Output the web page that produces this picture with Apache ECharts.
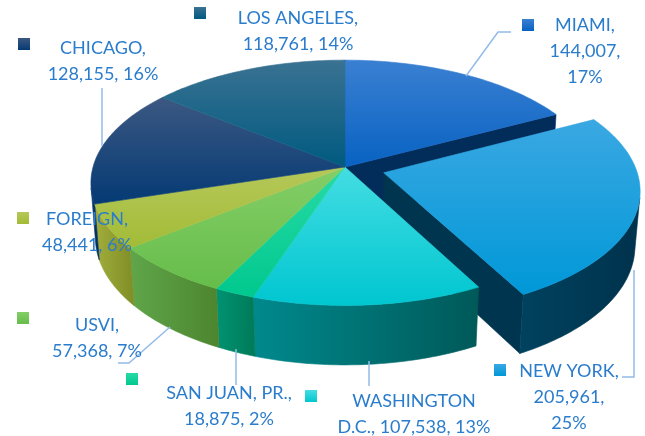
<!DOCTYPE html>
<html><head><meta charset="utf-8">
<script src="https://cdn.jsdelivr.net/npm/echarts@6/dist/echarts.min.js"></script>
<style>html,body{margin:0;padding:0;background:#fff}#c{width:645px;height:436px}</style>
</head><body><div id="c"></div>
<script>
// ---- data ----
const categories = ['MIAMI','NEW YORK','WASHINGTON D.C.','SAN JUAN, PR.','USVI','FOREIGN','CHICAGO','LOS ANGELES'];
const values = [144007,205961,107538,18875,57368,48441,128155,118761];
const percentLabels = ['17%','25%','13%','2%','7%','6%','16%','14%'];
const explodedIndex = 1;

// ---- styles ----
const topColors = [['#3a80d2','#0862c2'],['#3aa8e2','#0098d8'],['#44dde3','#00c6d0'],['#28daa6','#00c88e'],['#84ce68','#66bd4a'],['#b6c85a','#a2bb36'],['#3c5882','#043a74'],['#3a7292','#005a80']];
const wallColors = [['#0a3666','#002a55'],['#00425f','#00324c'],['#00898d','#005959'],['#009372','#007a58'],['#60a64a','#4c852e'],['#a2ae3c','#7e8d26'],['#0c3a6c','#002c5a'],['#0a5274','#00405e']];
const cutColors = ['#022c5a','#003550','#005959','#007a58','#4c852e','#7e8d26','#002c5a','#00405e'];
const textColor = '#2a7ccc';
const leaderColor = '#93bbe8';
const view = {cx:345, cy:167, F:1721, dist:6.83, tilt:28.6*Math.PI/180, depth:0.25, explode:0.16};

const labelLayout = [
  {cx:585, y:25,  sq:[522,19], fmt:3, leader:[[466,76],[498,32],[511,32]]},
  {cx:569, y:371, sq:[494,364], fmt:3, leader:[[634,270],[634,377],[622,377]]},
  {cx:414, y:401, sq:[305,390], fmt:1, leader:[[369,361],[369,386]]},
  {cx:229, y:393, sq:[126,373], fmt:2, leader:[[236,349],[236,385]]},
  {cx:97,  y:325, sq:[17,312], fmt:2, leader:[[170,327],[129,363],[118,363]]},
  {cx:87,  y:219, sq:[17,212], fmt:2, leader:null},
  {cx:103, y:48,  sq:[18,38], fmt:2, leader:[[102,88],[102,146]]},
  {cx:298, y:18,  sq:[194,7], fmt:2, leader:null}
];

// ---- geometry from data ----
const total = values.reduce((a,b)=>a+b,0);
const slices = [];
let acc = 0;
values.forEach((v,i)=>{
  const s = acc/total*2*Math.PI; acc += v;
  const e = acc/total*2*Math.PI;
  const mid = (s+e)/2;
  const ex = i===explodedIndex ? view.explode : 0;
  slices.push({s, e, ox: ex*Math.sin(mid), oy: -ex*Math.cos(mid)});
});
const sn = Math.sin(view.tilt), cs = Math.cos(view.tilt);
function proj(x,y,z){
  const Yc = z*cs - y*sn;
  const D = view.dist - y*cs - z*sn;
  return [view.cx + view.F*x/D, view.cy - view.F*Yc/D];
}
const cam = [0, view.dist*cs, view.dist*sn];
function rim(sl, a, z){ return proj(Math.sin(a)+sl.ox, -Math.cos(a)+sl.oy, z); }
function arcPts(sl, a0, a1, z){
  const n = Math.max(2, Math.ceil(Math.abs(a1-a0)/(Math.PI/180))+1);
  const pts = [];
  for(let k=0;k<n;k++){ const a = a0+(a1-a0)*k/(n-1); pts.push(rim(sl,a,z)); }
  return pts;
}
function facing(nx,ny,nz,px,py,pz){ return nx*(cam[0]-px)+ny*(cam[1]-py)+nz*(cam[2]-pz) > 0; }
function grad(c, horiz){
  return new echarts.graphic.LinearGradient(0,0,horiz?1:0,horiz?0:1,[{offset:0,color:c[0]},{offset:1,color:c[1]}]);
}

function renderWalls(params){
  const i = params.dataIndex, sl = slices[i], h = -view.depth;
  const children = [];
  const nb = (i===explodedIndex || i===explodedIndex-1 || i===explodedIndex+1);
  if(nb){
    [[sl.s,-1],[sl.e,1]].forEach(([a,sg])=>{
      const nx = sg*Math.cos(a), ny = sg*Math.sin(a);
      const px = 0.5*Math.sin(a)+sl.ox, py = -0.5*Math.cos(a)+sl.oy;
      if(facing(nx,ny,0,px,py,h/2)){
        const pts = [proj(sl.ox,sl.oy,0), rim(sl,a,0), rim(sl,a,h), proj(sl.ox,sl.oy,h)];
        children.push({type:'polygon', z2:1, shape:{points:pts}, style:{fill:cutColors[i], stroke:cutColors[i], lineWidth:0.6}});
      }
    });
  }
  const N = 200; let a0=null, a1=null;
  for(let k=0;k<=N;k++){
    const a = sl.s+(sl.e-sl.s)*k/N;
    const ok = facing(Math.sin(a),-Math.cos(a),0,Math.sin(a)+sl.ox,-Math.cos(a)+sl.oy,h/2);
    if(ok){ if(a0===null) a0=a; a1=a; }
  }
  if(a0!==null && a1>a0){
    const top = arcPts(sl,a0,a1,0), bot = arcPts(sl,a1,a0,h);
    children.push({type:'polygon', z2:2, shape:{points:top.concat(bot)}, style:{fill:grad(wallColors[i],true), stroke:grad(wallColors[i],true), lineWidth:0.6}});
  }
  return {type:'group', children};
}
function renderTops(params){
  const i = params.dataIndex, sl = slices[i];
  const pts = [proj(sl.ox,sl.oy,0)].concat(arcPts(sl,sl.s,sl.e,0));
  return {type:'polygon', shape:{points:pts}, style:{fill:grad(topColors[i],false), stroke:grad(topColors[i],false), lineWidth:0.6}};
}
function labelText(i){
  const v = values[i].toLocaleString('en-US');
  const f = labelLayout[i].fmt;
  if(f===3) return categories[i]+',\n'+v+',\n'+percentLabels[i];
  if(f===1) return categories[i].replace(' ','\n')+', '+v+', '+percentLabels[i];
  return categories[i]+',\n'+v+', '+percentLabels[i];
}
function renderLabels(params){
  const i = params.dataIndex, L = labelLayout[i];
  const ch = [];
  if(L.leader) ch.push({type:'polyline', shape:{points:L.leader}, style:{stroke:leaderColor, lineWidth:1.5, fill:null}});
  ch.push({type:'rect', shape:{x:L.sq[0], y:L.sq[1], width:12, height:12}, style:{fill:grad(topColors[i],false)}});
  ch.push({type:'text', style:{text:labelText(i), x:L.cx, y:L.y-13, align:'center', verticalAlign:'top', fontFamily:'Lato', fontSize:18, lineHeight:26, fill:textColor}});
  return {type:'group', children:ch};
}

const chart = echarts.init(document.getElementById('c'));
chart.setOption({
  animation:false,
  series:[
    {type:'custom', coordinateSystem:'none', z:2, silent:true, data:values, renderItem:renderWalls},
    {type:'custom', coordinateSystem:'none', z:3, silent:true, data:values, renderItem:renderTops},
    {type:'custom', coordinateSystem:'none', z:4, silent:true, data:values, renderItem:renderLabels}
  ]
});
</script></body></html>
